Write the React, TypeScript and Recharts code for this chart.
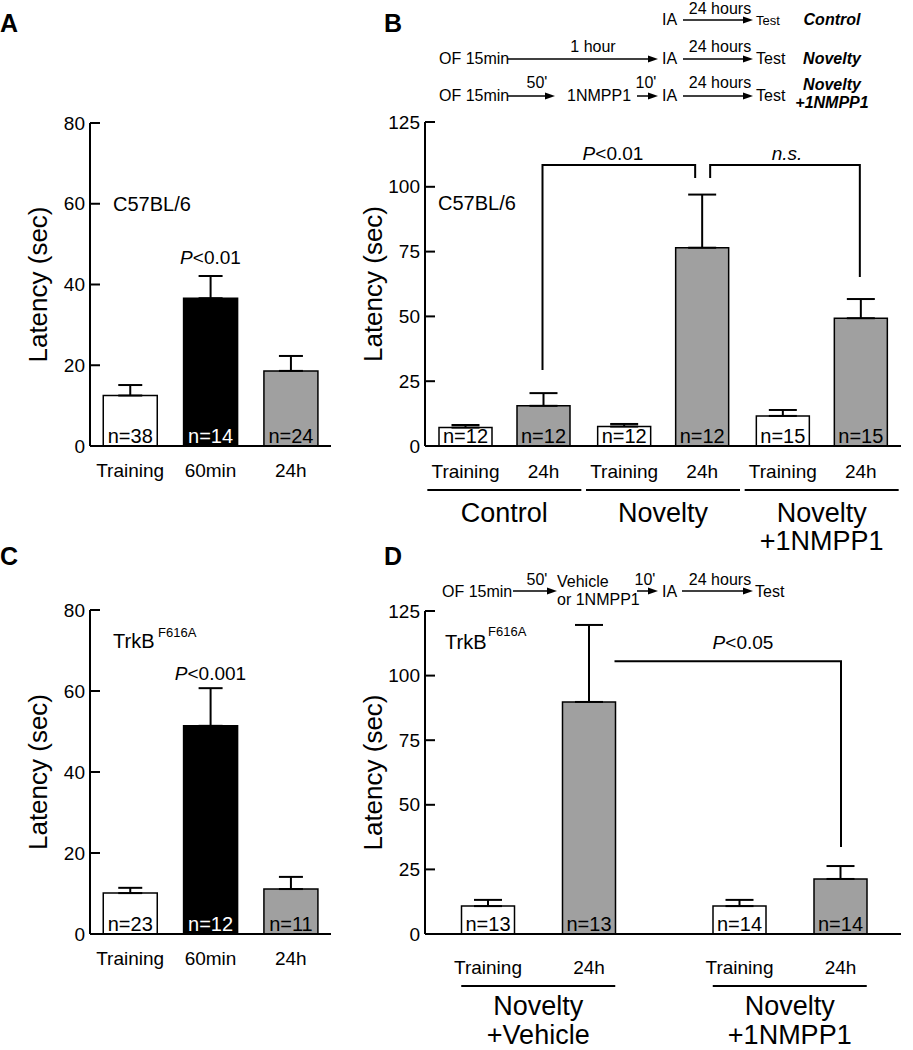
import React from 'react';
import { BarChart, Bar, XAxis, YAxis, ErrorBar, Cell, LabelList, Label } from 'recharts';

const FONT = 'Arial, "Liberation Sans", Helvetica, sans-serif';

// Panel A – C57BL/6, IA latency
const timeLabels = ['Training', '60min', '24h'];
const aMeans = [12.5, 36.6, 18.6];
const aSem = [2.6, 5.5, 3.7];
const aN = [38, 14, 24];

// Panel C – TrkB F616A, IA latency
const cMeans = [10.1, 51.4, 11.1];
const cSem = [1.3, 9.3, 3.0];
const cN = [23, 12, 11];

// Panel B – C57BL/6, novelty +/- 1NMPP1
const sessions = ['Training', '24h'];
const bGroups = ['Control', 'Novelty', 'Novelty\n+1NMPP1'];
const bTrainMeans = [7.1, 7.5, 11.6];
const bTrainSem = [1.0, 1.0, 2.3];
const bTestMeans = [15.5, 76.5, 49.3];
const bTestSem = [4.9, 20.5, 7.4];
const bTrainN = [12, 12, 15];
const bTestN = [12, 12, 15];

// Panel D – TrkB F616A, novelty + vehicle / 1NMPP1
const dGroups = ['Novelty\n+Vehicle', 'Novelty\n+1NMPP1'];
const dTrainMeans = [10.8, 10.8];
const dTrainSem = [2.4, 2.4];
const dTestMeans = [89.8, 21.3];
const dTestSem = [29.8, 5.0];
const dTrainN = [13, 14];
const dTestN = [13, 14];

const ticks80 = [0, 20, 40, 60, 80];
const ticks125 = [0, 25, 50, 75, 100, 125];

const singleFills = ['#ffffff', '#000000', '#a0a0a0'];
const singleLabelFills = ['#000', '#fff', '#000'];
const trainFill = '#ffffff';
const testFill = '#a0a0a0';

const aData = timeLabels.map((t, i) => ({ name: t, mean: aMeans[i], err: [0, aSem[i]], n: aN[i] }));
const cData = timeLabels.map((t, i) => ({ name: t, mean: cMeans[i], err: [0, cSem[i]], n: cN[i] }));
const bData = bGroups.map((g, i) => ({
  name: g,
  train: bTrainMeans[i], trainErr: [0, bTrainSem[i]], trainN: bTrainN[i],
  test: bTestMeans[i], testErr: [0, bTestSem[i]], testN: bTestN[i],
}));
const dData = dGroups.map((g, i) => ({
  name: g,
  train: dTrainMeans[i], trainErr: [0, dTrainSem[i]], trainN: dTrainN[i],
  test: dTestMeans[i], testErr: [0, dTestSem[i]], testN: dTestN[i],
}));

// layout helpers for annotations (match the chart geometry below)
const B_TOP = 122, B_H = 324, B_LEFT = 425, B_W = 476;
const yB = (v: number) => B_TOP + (1 - v / 125) * B_H;
const bBand = B_W / 3;
const bOff = Math.floor((bBand - (53 * 2 + 25)) / 2);
const bCenter = (g: number, s: number) => B_LEFT + g * bBand + bOff + 26.5 + s * 78;

const D_TOP = 611, D_H = 323, D_PADL = -12.5, D_PADR = -14.5;
const yD = (v: number) => D_TOP + (1 - v / 125) * D_H;
const dBand = (B_W - D_PADL - D_PADR) / 2;
const dOff = Math.floor((dBand - (53 * 2 + 48)) / 2);
const dCenter = (g: number, s: number) => B_LEFT + D_PADL + g * dBand + dOff + 26.5 + s * 101;

const YTick = (props: any) => {
  const { x, y, payload } = props;
  return (
    <g>
      <line x1={x} x2={x + 10} y1={y} y2={y} stroke="#000" strokeWidth={2} />
      <text x={x - 5} y={y} dy="0.35em" textAnchor="end" fontSize={19} fill="#000" fontFamily={FONT}>
        {payload.value}
      </text>
    </g>
  );
};

const yLabel = (props: any) => {
  const vb = props.viewBox || props;
  const cx = vb.x + vb.width - 52;
  const cy = vb.y + vb.height / 2;
  return (
    <text x={cx} y={cy} transform={`rotate(-90 ${cx} ${cy})`} textAnchor="middle" dominantBaseline="central"
      fontSize={26} fill="#000" fontFamily={FONT}>
      Latency (sec)
    </text>
  );
};

const TimeTick = (props: any) => {
  const { x, y, payload } = props;
  return (
    <text x={x} y={y + 31} textAnchor="middle" fontSize={19} fill="#000" fontFamily={FONT}>
      {payload.value}
    </text>
  );
};

const makeGroupTick = (lineY: number, textY: number, gap: number) => (props: any) => {
  const { x, y, payload } = props;
  const lines = String(payload.value).split('\n');
  return (
    <g>
      <line x1={x - 77} x2={x + 77} y1={y + lineY} y2={y + lineY} stroke="#000" strokeWidth={2} />
      {lines.map((l, i) => (
        <text key={i} x={x} y={y + textY + i * gap} textAnchor="middle" fontSize={27} fill="#000" fontFamily={FONT}>
          {l}
        </text>
      ))}
    </g>
  );
};

const nLabel = (colors: string[] | string) => (props: any) => {
  const vb = props.viewBox || props;
  const idx = props.index ?? 0;
  const fill = Array.isArray(colors) ? colors[idx] : colors;
  return (
    <text x={vb.x + vb.width / 2} y={vb.y + vb.height - 3} textAnchor="middle" fontSize={20} fill={fill} fontFamily={FONT}>
      n={props.value}
    </text>
  );
};

const sessionLabel = (text: string, dy: number) => (props: any) => {
  const vb = props.viewBox || props;
  return (
    <text x={vb.x + vb.width / 2} y={vb.y + vb.height + dy} textAnchor="middle" fontSize={19} fill="#000" fontFamily={FONT}>
      {text}
    </text>
  );
};

const Arrow = ({ x1, x2, y }: { x1: number; x2: number; y: number }) => (
  <g>
    <line x1={x1} x2={x2 - 6} y1={y} y2={y} stroke="#000" strokeWidth={1.5} />
    <polygon points={`${x2},${y} ${x2 - 10},${y - 3.5} ${x2 - 10},${y + 3.5}`} fill="#000" />
  </g>
);

const T = (p: any) => <text fontSize={16} fill="#000" fontFamily={FONT} {...p} />;

const SinglePanel = ({ data, top, height, plotTop, plotBottom }: any) => (
  <div style={{ position: 'absolute', left: 0, top }}>
    <BarChart width={340} height={height} data={data}
      margin={{ top: plotTop - top, right: 9, bottom: 0, left: 0 }} barCategoryGap="16.5%">
      <XAxis dataKey="name" interval={0} tickSize={0} tickMargin={0} tick={<TimeTick />}
        axisLine={{ stroke: '#000', strokeWidth: 2 }} height={top + height - plotBottom} />
      <YAxis type="number" domain={[0, 80]} ticks={ticks80} interval={0} width={90} tickSize={0} tickMargin={0}
        tick={<YTick />} tickLine={false} axisLine={{ stroke: '#000', strokeWidth: 2 }}
        label={<Label content={yLabel} />} />
      <Bar dataKey="mean" stroke="#000" strokeWidth={1.5} isAnimationActive={false}>
        {data.map((_: any, i: number) => <Cell key={i} fill={singleFills[i]} />)}
        <ErrorBar dataKey="err" direction="y" width={12} stroke="#000" strokeWidth={2} />
        <LabelList dataKey="n" content={nLabel(singleLabelFills)} />
      </Bar>
    </BarChart>
  </div>
);

const GroupPanel = ({ data, top, height, plotTop, plotBottom, barGap, padding, tick, sessDy }: any) => (
  <div style={{ position: 'absolute', left: 340, top }}>
    <BarChart width={573} height={height} data={data}
      margin={{ top: plotTop - top, right: 12, bottom: 0, left: 0 }} barSize={53} barGap={barGap}>
      <XAxis dataKey="name" interval={0} tickSize={0} tickMargin={0} tick={tick} padding={padding}
        axisLine={{ stroke: '#000', strokeWidth: 2 }} height={top + height - plotBottom} />
      <YAxis type="number" domain={[0, 125]} ticks={ticks125} interval={0} width={85} tickSize={0} tickMargin={0}
        tick={<YTick />} tickLine={false} axisLine={{ stroke: '#000', strokeWidth: 2 }}
        label={<Label content={yLabel} />} />
      <Bar dataKey="train" fill={trainFill} stroke="#000" strokeWidth={1.5} isAnimationActive={false}>
        <ErrorBar dataKey="trainErr" direction="y" width={14} stroke="#000" strokeWidth={2} />
        <LabelList dataKey="trainN" content={nLabel('#000')} />
        <LabelList dataKey="trainN" content={sessionLabel(sessions[0], sessDy)} />
      </Bar>
      <Bar dataKey="test" fill={testFill} stroke="#000" strokeWidth={1.5} isAnimationActive={false}>
        <ErrorBar dataKey="testErr" direction="y" width={14} stroke="#000" strokeWidth={2} />
        <LabelList dataKey="testN" content={nLabel('#000')} />
        <LabelList dataKey="testN" content={sessionLabel(sessions[1], sessDy)} />
      </Bar>
    </BarChart>
  </div>
);

export default function App() {
  const bx1 = bCenter(0, 1), bx2 = bCenter(1, 1), bx3 = bCenter(2, 1);
  const dxL = dCenter(0, 1) + 26.5, dxR = dCenter(1, 1) + 1.5;
  return (
    <div style={{ position: 'absolute', left: 0, top: 0, width: 913, height: 1050, background: '#fff', fontFamily: FONT }}>
      <SinglePanel data={aData} top={0} height={500} plotTop={123} plotBottom={446} />
      <SinglePanel data={cData} top={500} height={550} plotTop={610} plotBottom={934} />
      <GroupPanel data={bData} top={0} height={560} plotTop={122} plotBottom={446} barGap={25}
        padding={{ left: 0, right: 0 }} tick={makeGroupTick(44, 76, 28)} sessDy={32} />
      <GroupPanel data={dData} top={560} height={490} plotTop={611} plotBottom={934} barGap={48}
        padding={{ left: D_PADL, right: D_PADR }} tick={makeGroupTick(52, 81, 29)} sessDy={40} />

      <svg width={913} height={1050} style={{ position: 'absolute', left: 0, top: 0, pointerEvents: 'none' }}>
        {/* panel letters */}
        <text x={0} y={32} fontSize={25} fontWeight="bold" fontFamily={FONT}>A</text>
        <text x={384} y={32} fontSize={25} fontWeight="bold" fontFamily={FONT}>B</text>
        <text x={0} y={565} fontSize={25} fontWeight="bold" fontFamily={FONT}>C</text>
        <text x={384} y={565} fontSize={25} fontWeight="bold" fontFamily={FONT}>D</text>

        {/* panel A annotations */}
        <text x={113} y={211} fontSize={20} fontFamily={FONT}>C57BL/6</text>
        <text x={210.5} y={264} fontSize={19} textAnchor="middle" fontFamily={FONT}>
          <tspan fontStyle="italic">P</tspan>&lt;0.01
        </text>

        {/* panel C annotations */}
        <text x={113} y={648} fontSize={20} fontFamily={FONT}>TrkB</text>
        <text x={158} y={637} fontSize={13} fontFamily={FONT}>F616A</text>
        <text x={210.5} y={680} fontSize={19} textAnchor="middle" fontFamily={FONT}>
          <tspan fontStyle="italic">P</tspan>&lt;0.001
        </text>

        {/* panel B protocol */}
        <T x={662} y={25}>IA</T>
        <Arrow x1={683} x2={753} y={20} />
        <T x={720} y={14} textAnchor="middle">24 hours</T>
        <T x={756} y={25} fontSize={13}>Test</T>
        <T x={832} y={25} textAnchor="middle" fontWeight="bold" fontStyle="italic">Control</T>

        <T x={439} y={64}>OF 15min</T>
        <Arrow x1={508} x2={658} y={59} />
        <T x={593} y={52} textAnchor="middle">1 hour</T>
        <T x={662} y={64}>IA</T>
        <Arrow x1={683} x2={753} y={59} />
        <T x={720} y={52} textAnchor="middle">24 hours</T>
        <T x={756} y={64}>Test</T>
        <T x={832} y={64} textAnchor="middle" fontWeight="bold" fontStyle="italic">Novelty</T>

        <T x={439} y={101}>OF 15min</T>
        <Arrow x1={508} x2={555} y={96} />
        <T x={537} y={88} textAnchor="middle">50'</T>
        <T x={567} y={101}>1NMPP1</T>
        <Arrow x1={637} x2={658} y={96} />
        <T x={646} y={88} textAnchor="middle">10'</T>
        <T x={662} y={101}>IA</T>
        <Arrow x1={683} x2={753} y={96} />
        <T x={720} y={88} textAnchor="middle">24 hours</T>
        <T x={756} y={101}>Test</T>
        <T x={832} y={90} textAnchor="middle" fontWeight="bold" fontStyle="italic">Novelty</T>
        <T x={832} y={108} textAnchor="middle" fontWeight="bold" fontStyle="italic">+1NMPP1</T>

        {/* panel B annotations */}
        <text x={438} y={210} fontSize={20} fontFamily={FONT}>C57BL/6</text>
        <polyline points={`${bx1},${yB(29.3)} ${bx1},${yB(108.4)} ${bx2 - 6},${yB(108.4)} ${bx2 - 6},${yB(103.4)}`}
          fill="none" stroke="#000" strokeWidth={2} />
        <polyline points={`${bx2 + 9},${yB(103.4)} ${bx2 + 9},${yB(108.4)} ${bx3},${yB(108.4)} ${bx3},${yB(65.2)}`}
          fill="none" stroke="#000" strokeWidth={2} />
        <text x={613} y={160} fontSize={19} textAnchor="middle" fontFamily={FONT}>
          <tspan fontStyle="italic">P</tspan>&lt;0.01
        </text>
        <text x={787} y={160} fontSize={19} textAnchor="middle" fontStyle="italic" fontFamily={FONT}>n.s.</text>

        {/* panel D protocol */}
        <T x={442} y={597}>OF 15min</T>
        <Arrow x1={513} x2={557} y={591} />
        <T x={537} y={585} textAnchor="middle">50'</T>
        <T x={557} y={587}>Vehicle</T>
        <T x={557} y={605}>or 1NMPP1</T>
        <Arrow x1={637} x2={658} y={591} />
        <T x={645} y={585} textAnchor="middle">10'</T>
        <T x={662} y={597}>IA</T>
        <Arrow x1={682} x2={753} y={591} />
        <T x={720} y={585} textAnchor="middle">24 hours</T>
        <T x={755} y={597}>Test</T>

        {/* panel D annotations */}
        <text x={445} y={649} fontSize={20} fontFamily={FONT}>TrkB</text>
        <text x={488} y={636} fontSize={13} fontFamily={FONT}>F616A</text>
        <polyline points={`${dxL},${yD(105.6)} ${dxR},${yD(105.6)} ${dxR},${yD(33.7)}`}
          fill="none" stroke="#000" strokeWidth={2} />
        <text x={743} y={649} fontSize={19} textAnchor="middle" fontFamily={FONT}>
          <tspan fontStyle="italic">P</tspan>&lt;0.05
        </text>
      </svg>
    </div>
  );
}
